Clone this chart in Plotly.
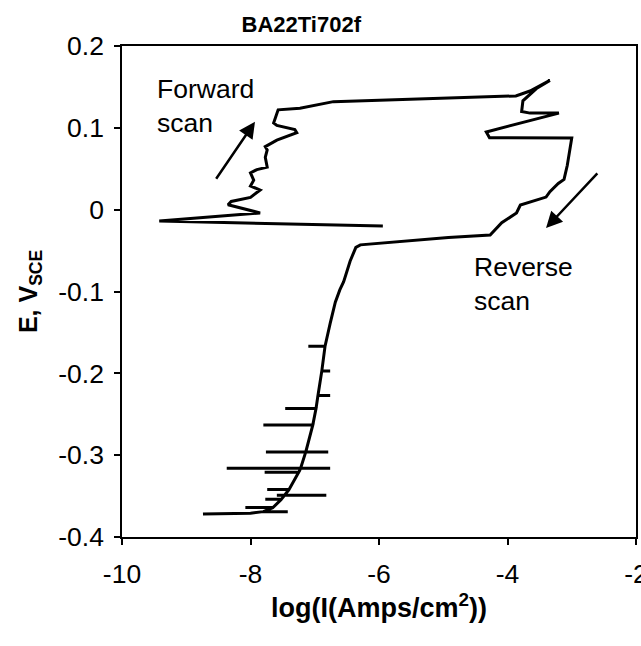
import plotly.graph_objects as go

# Potentiodynamic scan path (log current density, potential vs SCE)
log_i = [
    -5.94, -9.42, -7.85, -8.35, -8.30, -8.00, -7.85, -8.00, -7.95, -8.00,
    -7.90, -7.74, -7.77, -7.74, -7.77, -7.59, -7.28, -7.31, -7.59, -7.64,
    -7.57, -7.23, -6.71, -5.44, -3.87, -3.65, -3.34, -3.55, -3.76, -3.78,
    -3.65, -3.20, -4.33, -4.28, -3.00, -3.07, -3.12, -3.21, -3.34, -3.40,
    -3.80, -3.86, -4.09, -4.27, -4.92, -6.29, -6.36, -6.45, -6.55, -6.61,
    -6.68, -6.76,
    -6.84, -7.10, -6.84,
    -6.89, -6.76, -6.89,
    -6.95, -6.76, -6.95,
    -6.98, -7.46, -6.98,
    -7.03, -7.80, -7.03,
    -7.14, -7.76, -6.79, -7.14,
    -7.22, -8.37, -6.76, -7.22,
    -7.25, -7.78, -7.25,
    -7.40, -7.74, -7.40,
    -7.47, -7.59, -6.82, -7.47,
    -7.52, -7.77, -7.52,
    -7.65, -8.08, -7.65,
    -7.80, -7.42, -7.80,
    -8.00, -8.74,
]
e_sce = [
    -0.020, -0.014, -0.004, 0.006, 0.010, 0.015, 0.024, 0.029, 0.036, 0.045,
    0.049, 0.052, 0.064, 0.073, 0.077, 0.085, 0.094, 0.098, 0.103, 0.106,
    0.122, 0.124, 0.132, 0.135, 0.139, 0.145, 0.158, 0.148, 0.133, 0.120,
    0.118, 0.118, 0.095, 0.088, 0.0875, 0.054, 0.037, 0.032, 0.022, 0.0154,
    0.0056, -0.004, -0.016, -0.031, -0.034, -0.043, -0.046, -0.063, -0.088, -0.098,
    -0.113, -0.139,
    -0.167, -0.167, -0.167,
    -0.197, -0.197, -0.197,
    -0.227, -0.227, -0.227,
    -0.243, -0.243, -0.243,
    -0.263, -0.263, -0.263,
    -0.296, -0.296, -0.296, -0.296,
    -0.316, -0.316, -0.316, -0.316,
    -0.321, -0.321, -0.321,
    -0.342, -0.342, -0.342,
    -0.349, -0.349, -0.349, -0.349,
    -0.354, -0.354, -0.354,
    -0.364, -0.364, -0.364,
    -0.369, -0.369, -0.369,
    -0.371, -0.372,
]

x_ticks = [-10, -8, -6, -4, -2]
x_tick_labels = ["-10", "-8", "-6", "-4", "-2"]
y_ticks = [0.2, 0.1, 0, -0.1, -0.2, -0.3, -0.4]
y_tick_labels = ["0.2", "0.1", "0", "-0.1", "-0.2", "-0.3", "-0.4"]

FONT = "Arial, Liberation Sans, sans-serif"

fig = go.Figure()
fig.add_trace(go.Scatter(
    x=log_i, y=e_sce, mode="lines",
    line=dict(color="black", width=3),
    showlegend=False, hoverinfo="skip",
))

# arrows
fig.add_annotation(x=-7.93, y=0.1075, ax=-8.55, ay=0.036,
                   xref="x", yref="y", axref="x", ayref="y",
                   text="", showarrow=True, arrowhead=2, arrowsize=1.3,
                   arrowwidth=2.5, arrowcolor="black")
fig.add_annotation(x=-3.40, y=-0.0225, ax=-2.58, ay=0.0463,
                   xref="x", yref="y", axref="x", ayref="y",
                   text="", showarrow=True, arrowhead=2, arrowsize=1.3,
                   arrowwidth=2.5, arrowcolor="black")

fig.add_annotation(x=-9.48, y=0.127, xref="x", yref="y", text="Forward<br>scan",
                   showarrow=False, xanchor="left", yanchor="middle", align="left",
                   font=dict(family=FONT, size=26.5, color="black"))
fig.add_annotation(x=-4.55, y=-0.091, xref="x", yref="y", text="Reverse<br>scan",
                   showarrow=False, xanchor="left", yanchor="middle", align="left",
                   font=dict(family=FONT, size=26.5, color="black"))

fig.update_layout(
    width=641, height=646,
    margin=dict(l=122, r=5, t=46, b=109),
    paper_bgcolor="white", plot_bgcolor="white",
    font=dict(family=FONT, color="black"),
    title=dict(text="<b>BA22Ti702f</b>", x=0.47, xanchor="center", y=0.962, yanchor="middle",
               font=dict(family=FONT, size=22, color="black")),
)
fig.update_xaxes(
    range=[-10, -2], tickvals=x_ticks, ticktext=x_tick_labels,
    showgrid=False, zeroline=False, showline=True, linecolor="black", linewidth=1.5,
    mirror=True, ticks="outside", ticklen=6, tickwidth=1.5, tickcolor="black",
    tickfont=dict(family=FONT, size=26.5, color="black"),
    ticklabeloverflow="allow", ticklabelstandoff=6, automargin=False,
    title=dict(text="<b>log(I(Amps/cm<sup>2</sup>))</b>",
               font=dict(family=FONT, size=27, color="black"), standoff=10),
)
fig.update_yaxes(
    range=[-0.4, 0.2], tickvals=y_ticks, ticktext=y_tick_labels,
    showgrid=False, zeroline=False, showline=True, linecolor="black", linewidth=1.5,
    mirror=True, ticks="outside", ticklen=6, tickwidth=1.5, tickcolor="black",
    tickfont=dict(family=FONT, size=26.5, color="black"),
    ticklabelstandoff=5, automargin=False,
    title=dict(text="<b>E, V<sub>SCE</sub></b>",
               font=dict(family=FONT, size=25, color="black"), standoff=14),
)

fig.write_html("out.html")
